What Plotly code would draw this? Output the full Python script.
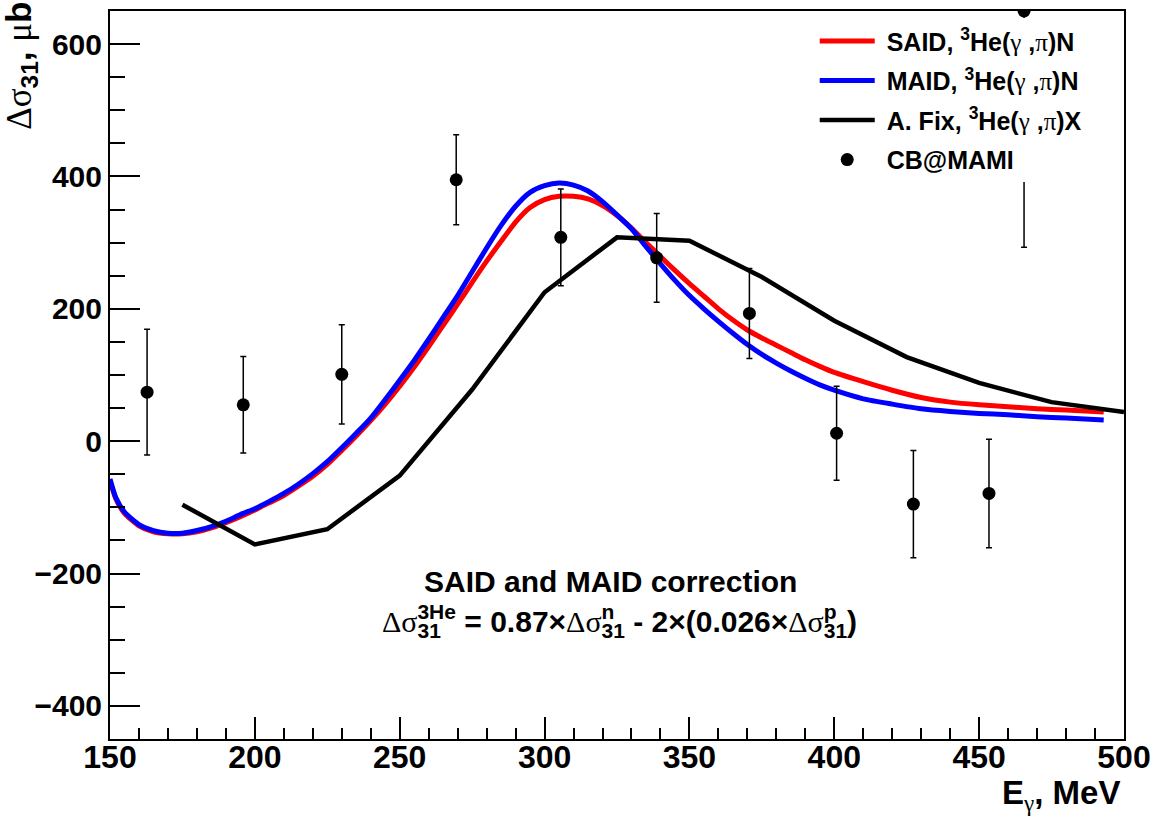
import plotly.graph_objects as go

# SAID model, 3He(gamma,pi)N  -- E_gamma [MeV], delta sigma_31 [mub]
said_e = [150, 152, 155, 160, 165, 170, 175, 180, 185, 190, 195, 200, 205, 210, 215, 220,
          225, 230, 235, 240, 245, 250, 255, 260, 265, 270, 275, 280, 285, 290, 295, 300,
          305, 310, 315, 320, 325, 330, 335, 340, 345, 350, 355, 360, 365, 370, 375, 380,
          385, 390, 395, 400, 410, 420, 430, 440, 450, 460, 470, 480, 493]
said_s = [-60, -87, -109, -128, -137, -140, -140, -137, -131, -123, -114, -104, -93, -82, -68, -53,
          -35, -14, 8, 31, 56, 83, 112, 143, 175, 207, 240, 272, 302, 331, 353, 365,
          370, 370, 366, 356, 341, 322, 300, 279, 258, 238, 219, 200, 183, 168, 156, 145,
          134, 123, 113, 104, 90, 77, 66, 59, 55, 52, 49, 47, 44]

# MAID model, 3He(gamma,pi)N
maid_e = [150, 152, 155, 160, 165, 170, 175, 180, 185, 190, 195, 200, 205, 210, 215, 220,
          225, 230, 235, 240, 245, 250, 255, 260, 265, 270, 275, 280, 285, 290, 295, 300,
          305, 310, 315, 320, 325, 330, 335, 340, 345, 350, 355, 360, 365, 370, 375, 380,
          385, 390, 395, 400, 410, 420, 430, 440, 450, 460, 470, 480, 493]
maid_s = [-57, -85, -107, -126, -135, -139, -139, -135, -129, -121, -111, -102, -91, -79, -65, -49,
          -31, -10, 12, 35, 63, 92, 122, 154, 187, 220, 256, 292, 326, 355, 376, 386,
          390, 387, 378, 362, 342, 321, 294, 268, 243, 220, 200, 181, 163, 146, 131, 118,
          106, 95, 85, 77, 64, 56, 49, 45, 42, 40, 37, 35, 32]

# A. Fix calculation, 3He(gamma,pi)X
fix_e = [175, 200, 225, 250, 275, 300, 325, 350, 375, 400, 425, 450, 475, 500]
fix_s = [-96, -156, -133, -52, 78, 225, 308, 303, 248, 182, 127, 88, 59, 44]

# CB@MAMI measurement
cb_e = [162.8, 196.0, 230.0, 269.5, 305.6, 338.7, 370.7, 400.8, 427.3, 453.4, 465.5]
cb_s = [74, 55, 101, 395, 308, 277, 193, 12, -95, -79, 650]
cb_err = [95, 73, 75, 68, 73, 67, 68, 71, 81, 82, 357]

FONT = "Liberation Sans"
GREEK = "font-family:Liberation Serif;font-weight:normal"
NB = "\u00a0"


def g(ch):
    return f'<span style="{GREEK}">{ch}</span>'


def stacked(sup, sub_w, sup_pad):
    """Subscript 31 with a superscript set directly above it."""
    pad = f'<span style="letter-spacing:{sup_pad}px">{sup[-1]}</span>'
    return (f'<sub>3<span style="letter-spacing:-{sub_w}px">1</span></sub>'
            f'<sup>{sup[:-1]}{pad}</sup>')


reaction_n = f"<sup>3</sup>He({g('γ')} ,{g('π')})N"
reaction_x = f"<sup>3</sup>He({g('γ')} ,{g('π')})X"

fig = go.Figure()

fig.add_trace(go.Scatter(
    x=said_e, y=said_s, mode="lines",
    line=dict(color="#ff0000", width=5, shape="spline", smoothing=0.6),
    name=NB + "SAID, " + reaction_n, legendgroup="a"))
fig.add_trace(go.Scatter(
    x=maid_e, y=maid_s, mode="lines",
    line=dict(color="#0000ff", width=5, shape="spline", smoothing=0.6),
    name=NB + "MAID, " + reaction_n, legendgroup="b"))
fig.add_trace(go.Scatter(
    x=fix_e, y=fix_s, mode="lines", line=dict(color="black", width=4.5),
    name=NB + "A. Fix, " + reaction_x, legendgroup="c"))
fig.add_trace(go.Scatter(
    x=cb_e, y=cb_s, mode="markers", marker=dict(color="black", size=13),
    error_y=dict(type="data", array=cb_err, visible=True, color="black", thickness=1.5, width=3),
    name=NB + "CB@MAMI", legendgroup="d"))

axis_common = dict(
    showgrid=False, zeroline=False, showline=True, linecolor="black", linewidth=2,
    mirror=True, ticks="inside", tickcolor="black", tickwidth=1.5, automargin=False,
)

fig.update_xaxes(
    range=[150, 500], dtick=50, tick0=150, ticklen=22, ticklabelstandoff=-11,
    tickfont=dict(family=FONT, size=32, color="black", weight="bold"),
    minor=dict(dtick=10, ticklen=11, ticks="inside", tickcolor="black", tickwidth=1.5),
    **axis_common)
fig.update_yaxes(
    range=[-450, 650], dtick=200, tick0=0, ticklen=30,
    tickfont=dict(family=FONT, size=30, color="black", weight="bold"),
    minor=dict(dtick=50, ticklen=15, ticks="inside", tickcolor="black", tickwidth=1.5),
    **axis_common)

sub_w = 23.4   # width of the "31" subscript at 30 px
fig.update_layout(
    width=1158, height=820,
    margin=dict(l=110, r=34, t=11, b=81),
    plot_bgcolor="white", paper_bgcolor="white",
    showlegend=True,
    legend=dict(
        x=0.695, y=0.99, xanchor="left", yanchor="top",
        bgcolor="white", borderwidth=0,
        font=dict(family=FONT, size=25, color="black", weight="bold"),
        itemwidth=55, tracegroupgap=4,
    ),
    annotations=[
        dict(xref="paper", yref="paper", x=0.494, y=0.217, xanchor="center", yanchor="middle",
             text="SAID and MAID correction", showarrow=False,
             font=dict(family=FONT, size=30, color="black", weight="bold")),
        dict(xref="paper", yref="paper", x=0.502, y=0.162, xanchor="center", yanchor="middle",
             text=(f"{g('Δσ')}{stacked('3He', sub_w, 0)} = 0.87×{g('Δσ')}{stacked('n', sub_w, 10.5)}"
                   f" - 2×(0.026×{g('Δσ')}{stacked('p', sub_w, 10.5)})"),
             showarrow=False,
             font=dict(family=FONT, size=30, color="black", weight="bold")),
        dict(xref="paper", yref="paper", x=0.998, y=-0.077, xanchor="right", yanchor="middle",
             text=f"E<sub>{g('γ')}</sub>, MeV", showarrow=False,
             font=dict(family=FONT, size=33, color="black", weight="bold")),
        dict(xref="paper", yref="paper", x=-0.088, y=1.015, xanchor="center", yanchor="top",
             textangle=-90, text=f"{g('Δσ')}<sub>31</sub>, {g('μ')}b", showarrow=False,
             font=dict(family=FONT, size=35, color="black", weight="bold")),
    ],
)

fig.write_html("out.html")
